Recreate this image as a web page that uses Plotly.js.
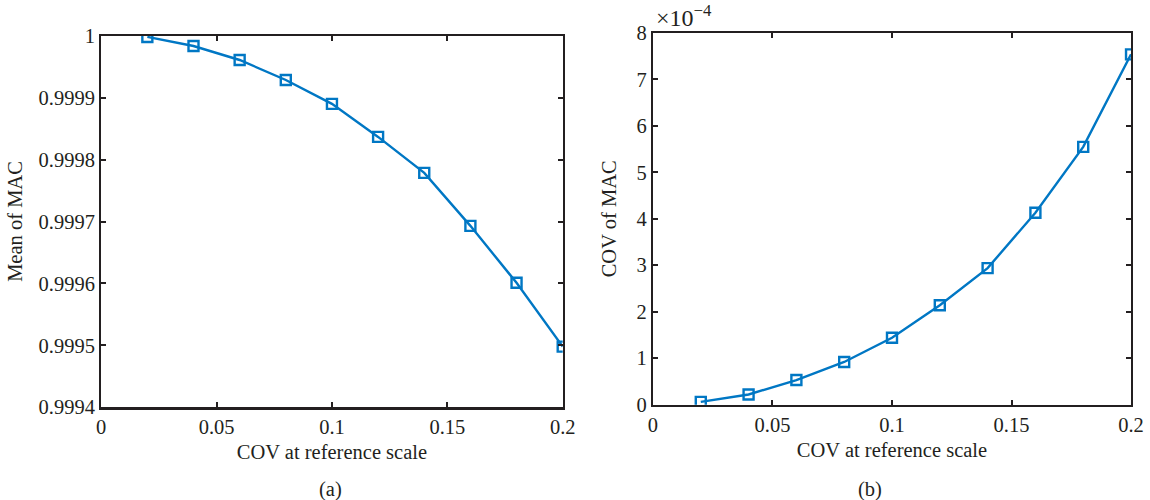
<!DOCTYPE html>
<html>
<head>
<meta charset="utf-8">
<script src="https://cdn.plot.ly/plotly-3.0.1.min.js"></script>
<style>html,body{margin:0;padding:0;background:#fff;}#chart{width:1150px;height:500px;}</style>
</head>
<body>
<div id="chart"></div>
<script>
// Data
const covRef = [0.02, 0.04, 0.06, 0.08, 0.10, 0.12, 0.14, 0.16, 0.18, 0.20];
const meanMAC = [0.999998, 0.9999834, 0.9999608, 0.9999285, 0.999890, 0.9998366, 0.9997785, 0.999693, 0.999601, 0.999498];
const covMAC_e4 = [0.06, 0.22, 0.53, 0.92, 1.44, 2.14, 2.94, 4.13, 5.55, 7.54]; // in units of 1e-4

const xTickVals = [0, 0.05, 0.1, 0.15, 0.2];
const xTickText = ["0", "0.05", "0.1", "0.15", "0.2"];
const yLeftTickVals = [0.9994, 0.9995, 0.9996, 0.9997, 0.9998, 0.9999, 1];
const yLeftTickText = ["0.9994", "0.9995", "0.9996", "0.9997", "0.9998", "0.9999", "1"];
const yRightTickVals = [0, 1, 2, 3, 4, 5, 6, 7, 8];
const yRightTickText = ["0", "1", "2", "3", "4", "5", "6", "7", "8"];

const blue = '#0077C4';
const FONT = 'Liberation Serif, DejaVu Serif, serif';
const txt = '#231f20';
const FS = 20.5;

const lineStyle = {color: blue, width: 2.4};
const markerStyle = {symbol: 'square-open', size: 10, color: blue, line: {width: 2.4, color: blue}};

const traces = [
  {x: covRef, y: meanMAC, xaxis: 'x', yaxis: 'y', mode: 'lines+markers', line: lineStyle, marker: markerStyle, hoverinfo: 'x+y'},
  {x: covRef, y: covMAC_e4, xaxis: 'x2', yaxis: 'y2', mode: 'lines+markers', line: lineStyle, marker: markerStyle, hoverinfo: 'x+y'}
];

const axisCommon = {
  showline: true, linecolor: txt, linewidth: 2.2, mirror: 'ticks',
  ticks: 'inside', ticklen: 5, tickwidth: 2, tickcolor: txt,
  showgrid: false, zeroline: false,
  tickfont: {family: FONT, size: FS, color: txt},
  tickmode: 'array'
};

const layout = {
  width: 1150, height: 500,
  margin: {l: 0, r: 0, t: 0, b: 0},
  paper_bgcolor: '#fff', plot_bgcolor: '#fff',
  showlegend: false,
  font: {family: FONT, size: FS, color: txt},
  xaxis: Object.assign({}, axisCommon, {
    domain: [0.0880, 0.4893], range: [0, 0.2], tickvals: xTickVals, ticktext: xTickText,
    anchor: 'y',
    title: {text: 'COV at reference scale', font: {family: FONT, size: FS, color: txt}, standoff: 8}
  }),
  yaxis: Object.assign({}, axisCommon, {
    domain: [0.1854, 0.9286], range: [0.9994, 1], tickvals: yLeftTickVals, ticktext: yLeftTickText,
    anchor: 'x',
    title: {text: 'Mean of MAC', font: {family: FONT, size: FS, color: txt}, standoff: 10}
  }),
  xaxis2: Object.assign({}, axisCommon, {
    domain: [0.5678, 0.9835], range: [0, 0.2], tickvals: xTickVals, ticktext: xTickText,
    anchor: 'y2',
    title: {text: 'COV at reference scale', font: {family: FONT, size: FS, color: txt}, standoff: 8}
  }),
  yaxis2: Object.assign({}, axisCommon, {
    domain: [0.1906, 0.934], range: [0, 8], tickvals: yRightTickVals, ticktext: yRightTickText,
    anchor: 'x2',
    title: {text: 'COV of MAC', font: {family: FONT, size: FS, color: txt}, standoff: 14}
  }),
  annotations: [
    {xref: 'paper', yref: 'paper', x: 0.5678, y: 0.934, xanchor: 'left', yanchor: 'bottom', xshift: 1, yshift: 0,
     text: '×10<sup>−4</sup>', showarrow: false, font: {family: FONT, size: 24, color: txt}},
    {xref: 'paper', yref: 'paper', x: 330/1150, y: 1 - 489/500, xanchor: 'center', yanchor: 'middle',
     text: '(a)', showarrow: false, font: {family: FONT, size: FS, color: txt}},
    {xref: 'paper', yref: 'paper', x: 870/1150, y: 1 - 489/500, xanchor: 'center', yanchor: 'middle',
     text: '(b)', showarrow: false, font: {family: FONT, size: FS, color: txt}}
  ]
};

Plotly.newPlot('chart', traces, layout, {displayModeBar: false, staticPlot: true});
</script>
</body>
</html>
